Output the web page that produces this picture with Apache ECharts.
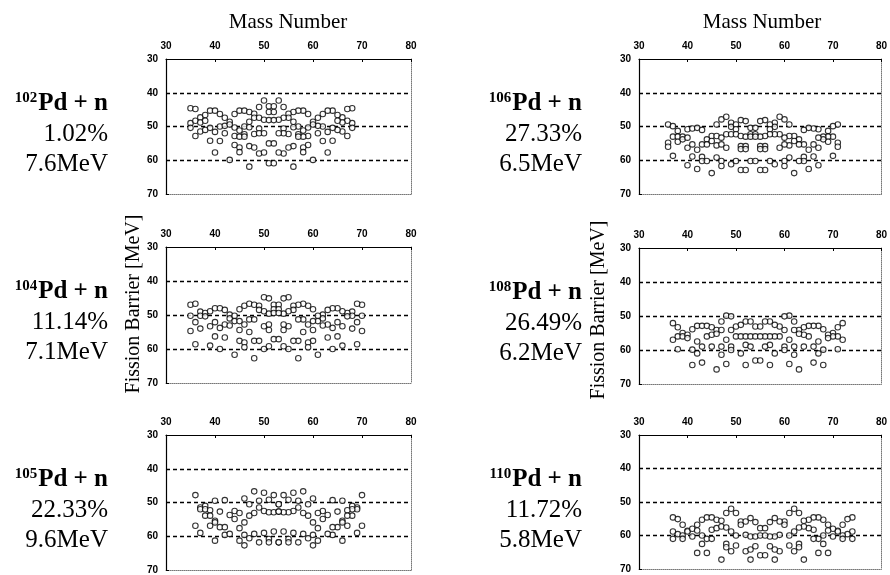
<!DOCTYPE html>
<html>
<head>
<meta charset="utf-8">
<script src="https://cdn.jsdelivr.net/npm/echarts@6/dist/echarts.min.js"></script>
<style>
  html, body { margin: 0; padding: 0; background: #fff; }
  #chart { width: 890px; height: 575px; }
</style>
</head>
<body>
<div id="chart"></div>
<script>
// Each row: [light fragment A, heavy fragment A, barrier heights in MeV ...]
const pd102Pairs = [
  [35, 68, 44.6, 49.0, 50.4],
  [36, 67, 44.8, 48.3, 52.8],
  [37, 66, 47.3, 48.8, 51.5],
  [38, 65, 46.6, 48.3, 51.0],
  [39, 64, 45.3, 50.4, 54.2],
  [40, 63, 45.3, 51.6, 57.7],
  [41, 62, 46.3, 50.0, 54.3],
  [42, 61, 47.4, 49.8, 52.0],
  [43, 60, 48.6, 49.4, 59.9],
  [44, 59, 46.3, 50.3, 52.8, 55.5],
  [45, 58, 45.3, 51.2, 53.0, 56.2, 57.6],
  [46, 57, 45.3, 50.0, 52.3, 53.0],
  [47, 56, 45.7, 48.6, 50.2, 55.8, 61.9],
  [48, 55, 46.2, 47.4, 52.2, 56.2],
  [49, 54, 44.2, 47.4, 50.6, 52.0, 58.0],
  [50, 53, 42.3, 48.0, 52.0, 57.7],
  [51, 52, 44.0, 45.7, 48.1, 55.0, 60.9]
];
const pd104Pairs = [
  [35, 70, 47.0, 50.2, 54.7],
  [36, 69, 46.7, 52.1, 58.6],
  [37, 68, 49.0, 50.2, 54.0],
  [38, 67, 49.4, 50.4],
  [39, 66, 48.9, 53.3, 59.0],
  [40, 65, 48.0, 52.1, 56.3],
  [41, 64, 48.0, 53.8, 60.0],
  [42, 63, 48.5, 52.8, 56.6],
  [43, 62, 49.9, 51.0, 53.1],
  [44, 61, 50.2, 51.8, 61.7],
  [45, 60, 48.3, 51.8, 54.4, 57.6],
  [46, 59, 47.3, 52.8, 58.1, 59.5],
  [47, 58, 46.7, 51.3, 55.0],
  [48, 57, 47.0, 51.3, 57.6, 62.7],
  [49, 56, 47.3, 48.5, 57.6],
  [50, 55, 44.8, 48.9, 53.3, 60.0],
  [51, 54, 45.1, 49.6, 52.8, 54.4, 59.2],
  [52, 53, 47.0, 48.3, 49.4, 57.1]
];
const pd105Pairs = [
  [36, 70, 47.8, 56.9],
  [37, 69, 51.5, 52.0, 59.0],
  [38, 68, 51.0, 52.0, 53.9],
  [39, 67, 52.3, 53.9, 56.9],
  [40, 66, 49.5, 55.4, 55.9, 61.3],
  [41, 65, 52.7, 57.3],
  [42, 64, 49.3, 57.3, 59.6],
  [43, 63, 53.7, 59.3],
  [44, 62, 52.5, 54.9],
  [45, 61, 53.1, 57.6, 61.3],
  [46, 60, 48.8, 55.9, 59.6, 62.7],
  [47, 59, 50.5, 53.9, 60.6],
  [48, 58, 46.7, 53.1, 59.3],
  [49, 57, 49.5, 51.5, 61.8],
  [50, 56, 47.1, 52.5, 59.0],
  [51, 55, 49.2, 52.9, 60.8, 61.8],
  [52, 54, 47.8, 52.9, 58.6],
  [53, 53, 50.5, 52.7, 61.8]
];
const pd106Pairs = [
  [36, 71, 49.4, 54.8, 56.0],
  [37, 70, 49.9, 53.0, 58.7],
  [38, 69, 51.3, 53.0, 54.5],
  [39, 68, 53.0, 53.8],
  [40, 67, 50.8, 53.3, 56.3, 61.5],
  [41, 66, 50.6, 55.3, 58.9],
  [42, 65, 50.4, 56.9, 62.6],
  [43, 64, 51.0, 55.3, 59.0, 60.2],
  [44, 63, 53.8, 55.3, 60.2],
  [45, 62, 52.8, 54.3, 63.8],
  [46, 61, 49.4, 52.8, 55.6, 59.2],
  [47, 60, 47.9, 53.3, 55.3, 60.2, 61.7],
  [48, 59, 47.1, 52.3, 56.3],
  [49, 58, 48.9, 50.1, 52.3, 61.2],
  [50, 57, 49.4, 50.8, 52.3, 60.2],
  [51, 56, 48.1, 52.8, 55.8, 56.7, 62.9],
  [52, 55, 48.4, 53.0, 55.8, 56.7, 62.9],
  [53, 54, 50.4, 52.3, 53.0, 60.2]
];
const pd108Pairs = [
  [37, 72, 52.1, 57.0],
  [38, 71, 53.3, 56.0, 59.8],
  [39, 70, 55.0, 56.0],
  [40, 69, 55.5, 56.5],
  [41, 68, 53.9, 59.9, 64.4],
  [42, 67, 52.9, 57.5, 61.0],
  [43, 66, 52.9, 59.0, 63.7],
  [44, 65, 52.9, 56.0],
  [45, 64, 53.3, 55.5, 59.0],
  [46, 63, 54.1, 55.2, 65.7],
  [47, 62, 51.6, 54.1, 59.0, 61.4],
  [48, 61, 49.9, 57.0, 64.1],
  [49, 60, 50.1, 54.1, 59.0, 60.0],
  [50, 59, 53.1, 56.0],
  [51, 58, 52.6, 56.0, 61.0],
  [52, 57, 51.6, 56.0, 58.5, 64.4],
  [53, 56, 51.6, 56.0, 59.0],
  [54, 55, 53.1, 56.0, 63.1]
];
const pd110Pairs = [
  [37, 74, 54.6, 58.8, 61.0],
  [38, 73, 55.1, 59.6],
  [39, 72, 56.8, 60.0, 61.0],
  [40, 71, 58.6, 58.8],
  [41, 70, 58.0, 60.3],
  [42, 69, 56.8, 58.5, 65.2],
  [43, 68, 55.3, 60.0, 62.5],
  [44, 67, 54.6, 61.0, 65.2],
  [45, 66, 54.6, 58.3, 61.0],
  [46, 65, 55.3, 57.8],
  [47, 64, 55.6, 57.3, 67.2],
  [48, 63, 53.3, 57.6, 62.5, 63.5],
  [49, 62, 52.0, 58.8, 64.7],
  [50, 61, 53.3, 60.0, 63.0],
  [51, 60, 55.8, 56.8],
  [52, 59, 55.8, 59.8, 64.7],
  [53, 58, 54.8, 60.3, 64.2, 67.2],
  [54, 57, 56.0, 60.3, 63.2],
  [55, 56, 57.8, 60.0, 65.9]
];

// Target isotopes, natural abundances and neutron separation energies
const targetMasses = ['102', '104', '105', '106', '108', '110'];
const abundances   = ['1.02%', '11.14%', '22.33%', '27.33%', '26.49%', '11.72%'];
const separations  = ['7.6MeV', '7.1MeV', '9.6MeV', '6.5MeV', '6.2MeV', '5.8MeV'];
const pairSets     = [pd102Pairs, pd104Pairs, pd105Pairs, pd106Pairs, pd108Pairs, pd110Pairs];

const massAxis    = { min: 30, max: 80, step: 10 };
const barrierAxis = { min: 30, max: 70, step: 10 };

// Panel boxes (left column then right column)
const panels = [
  { left: 166, top: 59,  width: 245, height: 135, textRight: 108 },
  { left: 166, top: 247, width: 245, height: 136, textRight: 108 },
  { left: 166, top: 435, width: 245, height: 135, textRight: 108 },
  { left: 639, top: 59,  width: 246, height: 135, textRight: 582 },
  { left: 639, top: 248, width: 246, height: 136, textRight: 582 },
  { left: 639, top: 435, width: 246, height: 134, textRight: 582 }
];

const SERIF = '"Liberation Serif", "Times New Roman", serif';
const TICK_FONT = '"Liberation Sans", Arial, sans-serif';

const chart = echarts.init(document.getElementById('chart'), null, { renderer: 'canvas' });

const grids = [], xAxes = [], yAxes = [], series = [], graphics = [];

const measure = document.createElement('canvas').getContext('2d');
function textWidth(font, s) { measure.font = font; return measure.measureText(s).width; }

panels.forEach((p, i) => {
  grids.push({ left: p.left, top: p.top, width: p.width, height: p.height, containLabel: false });

  const tickLabel = { fontSize: 10, fontWeight: 'bold', color: '#000', fontFamily: TICK_FONT };

  xAxes.push({
    gridIndex: i, type: 'value', position: 'top',
    min: massAxis.min, max: massAxis.max, interval: massAxis.step,
    axisLine: { show: true, lineStyle: { color: '#000', width: 1.2 } },
    axisTick: { show: true, inside: true, length: 3, lineStyle: { color: '#000' } },
    axisLabel: Object.assign({ margin: 8 }, tickLabel),
    splitLine: { show: false }
  });
  xAxes.push({
    gridIndex: i, type: 'value', position: 'bottom',
    min: massAxis.min, max: massAxis.max,
    axisLine: { show: true, lineStyle: { color: '#777', width: 1, type: 'dotted' } },
    axisTick: { show: false }, axisLabel: { show: false }, splitLine: { show: false }
  });
  yAxes.push({
    gridIndex: i, type: 'value', position: 'left', inverse: true,
    min: barrierAxis.min, max: barrierAxis.max, interval: barrierAxis.step,
    axisLine: { show: true, lineStyle: { color: '#000', width: 1.2 } },
    axisTick: { show: true, inside: true, length: 3, lineStyle: { color: '#000' } },
    axisLabel: Object.assign({ margin: 8 }, tickLabel),
    splitLine: {
      show: true, showMinLine: false, showMaxLine: false,
      lineStyle: { color: '#000', width: 1.3, type: [4, 3] }
    }
  });
  yAxes.push({
    gridIndex: i, type: 'value', position: 'right', inverse: true,
    min: barrierAxis.min, max: barrierAxis.max,
    axisLine: { show: true, lineStyle: { color: '#777', width: 1, type: 'dotted' } },
    axisTick: { show: false }, axisLabel: { show: false }, splitLine: { show: false }
  });

  const points = [];
  pairSets[i].forEach(row => {
    const light = row[0], heavy = row[1];
    row.slice(2).forEach(b => { points.push([light, b]); points.push([heavy, b]); });
  });
  series.push({
    type: 'scatter', xAxisIndex: 2 * i, yAxisIndex: 2 * i,
    data: points, symbol: 'circle', symbolSize: 5.5,
    itemStyle: { color: '#fff', borderColor: '#000', borderWidth: 1.1 },
    silent: true
  });

  // Reaction label block
  const boldFont = 'bold 25px ' + SERIF;
  const reaction = 'Pd + n';
  const w = textWidth(boldFont, reaction);
  const base = p.top + 57;
  graphics.push({
    type: 'text', x: p.textRight, y: base,
    style: { text: reaction, font: boldFont, fill: '#000', textAlign: 'right', textVerticalAlign: 'bottom' }
  });
  graphics.push({
    type: 'text', x: p.textRight - w - 1, y: base - 10,
    style: { text: targetMasses[i], font: 'bold 15px ' + SERIF, fill: '#000', textAlign: 'right', textVerticalAlign: 'bottom' }
  });
  graphics.push({
    type: 'text', x: p.textRight, y: base + 31,
    style: { text: abundances[i], font: '25px ' + SERIF, fill: '#000', textAlign: 'right', textVerticalAlign: 'bottom' }
  });
  graphics.push({
    type: 'text', x: p.textRight, y: base + 61,
    style: { text: separations[i], font: '25px ' + SERIF, fill: '#000', textAlign: 'right', textVerticalAlign: 'bottom' }
  });
});

// Column titles and rotated axis names
[[288, 'Mass Number'], [762, 'Mass Number']].forEach(([cx, t]) => {
  graphics.push({
    type: 'text', x: cx, y: 22,
    style: { text: t, font: '21px ' + SERIF, fill: '#000', textAlign: 'center', textVerticalAlign: 'middle' }
  });
});
[[134, 304], [599, 310]].forEach(([cx, cy]) => {
  graphics.push({
    type: 'text', x: cx, y: cy, rotation: Math.PI / 2,
    style: { text: 'Fission Barrier [MeV]', font: '20px ' + SERIF, fill: '#000', textAlign: 'center', textVerticalAlign: 'middle' }
  });
});

chart.setOption({
  animation: false,
  backgroundColor: '#fff',
  grid: grids,
  xAxis: xAxes,
  yAxis: yAxes,
  series: series,
  graphic: graphics
});
</script>
</body>
</html>
